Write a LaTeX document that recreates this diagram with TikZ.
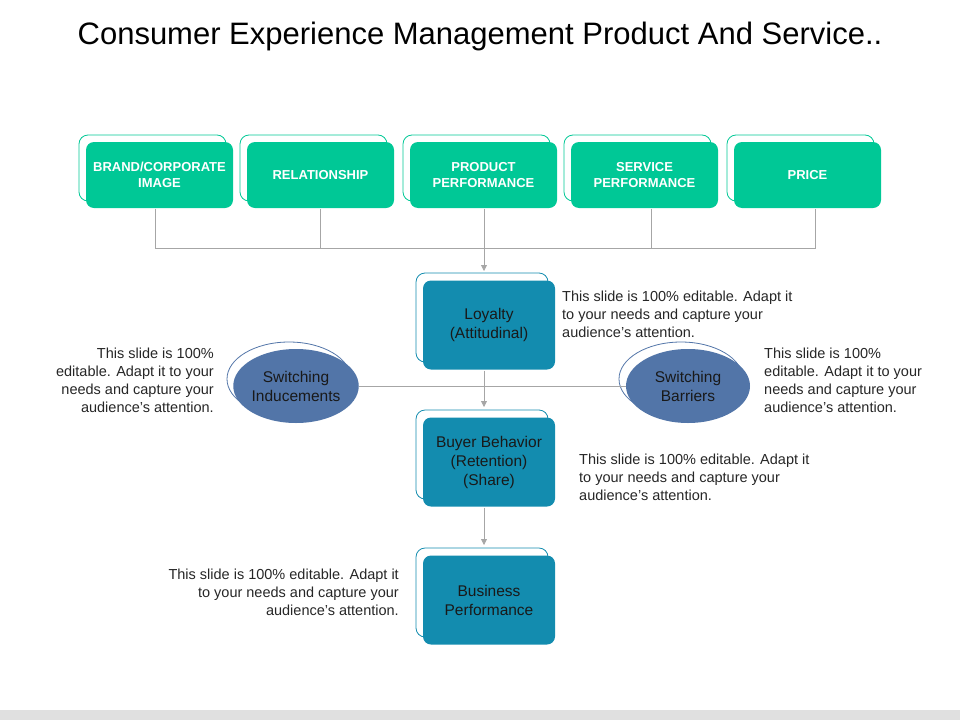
\documentclass[tikz,border=0pt]{standalone}
\usepackage{fontspec}
\setmainfont{Liberation Sans}
\usetikzlibrary{shapes.geometric,arrows.meta}
\definecolor{tealg}{HTML}{00C896}
\definecolor{tealb}{HTML}{138CAF}
\definecolor{slate}{HTML}{5275A8}
\definecolor{edgeg}{HTML}{A6A6A6}
\begin{document}
\begin{tikzpicture}[x=1pt,y=-1pt,
  back/.style={draw=#1,fill=white,rounded corners=9pt,line width=0.8pt},
  top/.style={fill=tealg,rounded corners=8pt,minimum width=147pt,minimum height=66pt,text=white,font=\bfseries\fontsize{13}{16}\selectfont,align=center,inner sep=0pt},
  mid/.style={fill=tealb,rounded corners=8pt,minimum width=132pt,minimum height=89pt,text=black!90,font=\fontsize{15.5}{19}\selectfont,align=center,inner sep=0pt},
  ell/.style={ellipse,fill=slate,minimum width=124pt,minimum height=74pt,text=black!90,font=\fontsize{15.5}{19}\selectfont,align=center,inner sep=0pt},
  bk/.style={draw=#1,fill=white,line width=0.8pt},
  txt/.style={font=\fontsize{14.5}{18}\selectfont,text=black!85,inner sep=0pt},
  con/.style={draw=edgeg,line width=0.8pt},
  arr/.style={con,-{Triangle[width=6pt,length=6pt]}}]
\useasboundingbox (0,0) rectangle (960,720);
\fill[black!12] (0,710) rectangle (960,720);
\node[font=\fontsize{31}{36}\selectfont] (title) at (480,36) {Consumer Experience Management Product And Service..};
% top boxes
\foreach \x/\n/\t in {159.5/b1/{BRAND/CORPORATE\\IMAGE},320.5/b2/{RELATIONSHIP},483.5/b3/{PRODUCT\\PERFORMANCE},644.5/b4/{SERVICE\\PERFORMANCE},807.5/b5/{PRICE}}{
  \draw[back=tealg] (\x-80.5,135) rectangle (\x+66.5,201);
  \node[top] (\n) at (\x,175) {\t};
}
% middle boxes
\foreach \y/\n/\t in {325/loy/{Loyalty\\(Attitudinal)},462/buy/{Buyer Behavior\\(Retention)\\(Share)},600/bus/{Business\\Performance}}{
  \draw[back=tealb] (416,\y-52) rectangle (548,\y+37);
  \node[mid] (\n) at (489,\y) {\t};
}
% ellipses
\draw[bk=slate] (289,379) ellipse (62 and 37);
\node[ell] (si) at (296,386) {Switching\\Inducements};
\draw[bk=slate] (681,379) ellipse (62 and 37);
\node[ell] (sb) at (688,386) {Switching\\Barriers};
% connectors
\coordinate (j1) at (155,248); \coordinate (j5) at (815,248); \coordinate (j3) at (484,248);
\draw[con] (155,208.5) -- (j1) -- (j5) -- (815,208.5);
\draw[con] (320,208.5) -- (320,248);
\draw[con] (651,208.5) -- (651,248);
\draw[con] (484,208.5) -- (j3);
\draw[arr] (j3) -- (484,271);
\draw[con] (si.east) -- (sb.west);
\draw[arr] (484,370.5) -- (484,407);
\draw[arr] (484,507.5) -- (484,545);
% texts
\node[txt,anchor=north west,align=left] (t1) at (562,291) {This slide is 100\% editable. Adapt it\\to your needs and capture your\\audience's attention.};
\node[txt,anchor=north east,align=right] (t2) at (214,348) {This slide is 100\%\\editable. Adapt it to your\\needs and capture your\\audience's attention.};
\node[txt,anchor=north west,align=left] (t3) at (764,348) {This slide is 100\%\\editable. Adapt it to your\\needs and capture your\\audience's attention.};
\node[txt,anchor=north west,align=left] (t4) at (579,454) {This slide is 100\% editable. Adapt it\\to your needs and capture your\\audience's attention.};
\node[txt,anchor=north east,align=right] (t5) at (399,569) {This slide is 100\% editable. Adapt it\\to your needs and capture your\\audience's attention.};
\end{tikzpicture}
\end{document}
